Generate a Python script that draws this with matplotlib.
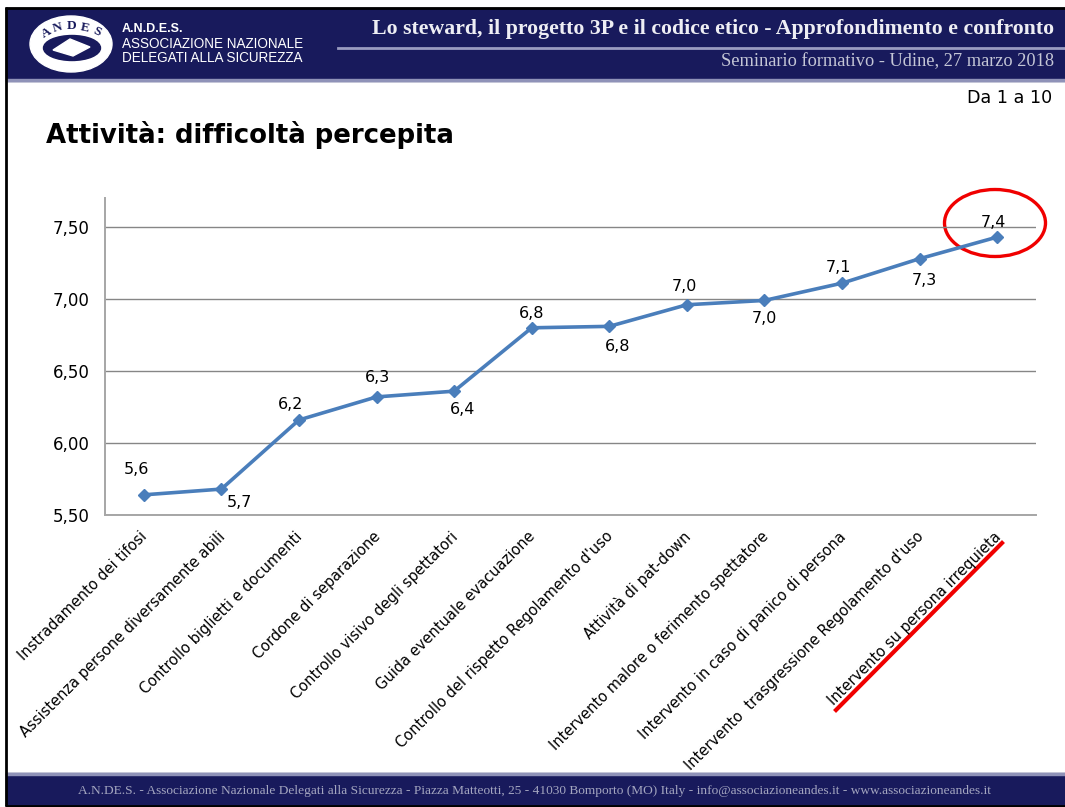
import matplotlib
matplotlib.use("Agg")
import matplotlib.pyplot as plt
from matplotlib.patches import Ellipse, Polygon, Rectangle
from matplotlib.transforms import ScaledTranslation

categories = ["Instradamento dei tifosi", "Assistenza persone diversamente abili",
              "Controllo biglietti e documenti", "Cordone di separazione",
              "Controllo visivo degli spettatori", "Guida eventuale evacuazione",
              "Controllo del rispetto Regolamento d'uso", "Attività di pat-down",
              "Intervento malore o ferimento spettatore",
              "Intervento in caso di panico di persona",
              "Intervento  trasgressione Regolamento d'uso",
              "Intervento su persona irrequieta"]
values = [5.64, 5.68, 6.16, 6.32, 6.36, 6.80, 6.81, 6.96, 6.99, 7.11, 7.28, 7.43]
value_labels = ["5,6", "5,7", "6,2", "6,3", "6,4", "6,8", "6,8", "7,0", "7,0", "7,1", "7,3", "7,4"]
label_offsets = [(-7, 25), (18, -13), (-8, 15), (1, 19), (8, -18), (0, 14),
                 (8, -20), (-2, 18), (0, -18), (-4, 16), (5, -22), (-4, 15)]
y_ticks = [5.5, 6.0, 6.5, 7.0, 7.5]
y_tick_labels = ["5,50", "6,00", "6,50", "7,00", "7,50"]
logo_letters = ["A", "N", "D", "E", "S"]

W, H = 1065, 807
navy = "#181a5c"
pale = "#c4c6d6"

fig = plt.figure(figsize=(W / 100, H / 100), dpi=100)

# slide background, header and footer in pixel coordinates
bg = fig.add_axes([0, 0, 1, 1])
bg.set_xlim(0, W)
bg.set_ylim(H, 0)
bg.axis("off")
bg.add_patch(Rectangle((6, 8), W - 6, 73, color=navy))
bg.add_patch(Rectangle((6, 79), W - 6, 2, color="#8f92b8"))
bg.add_patch(Rectangle((6, 773), W - 6, 32, color=navy))
bg.add_patch(Rectangle((6, 773), W - 6, 2, color="#8f92b8"))
bg.plot([5.5, 5.5], [7, 806], color="black", lw=2, solid_capstyle="butt")
bg.plot([5, W], [7.5, 7.5], color="black", lw=2, solid_capstyle="butt")
bg.plot([5, W], [805.5, 805.5], color="black", lw=2, solid_capstyle="butt")
bg.plot([338, W], [48, 48], color="#9a9cc0", lw=2)

# logo
bg.add_patch(Ellipse((71, 44), 82, 56, color="white"))
bg.add_patch(Ellipse((72, 48), 57, 25, color=navy))
bg.add_patch(Polygon([[53, 50], [70, 39], [90, 47], [73, 56]], color="white"))
letter_x = [47, 58, 72, 85, 97]
letter_y = [33, 28, 26, 28, 32]
letter_rot = [30, 15, 0, -12, -25]
for c, lx, ly, lr in zip(logo_letters, letter_x, letter_y, letter_rot):
    bg.text(lx, ly, c, color=navy, fontsize=9.5, fontweight="bold", rotation=lr,
            family="Liberation Serif", ha="center", va="center")
bg.text(122, 29, "A.N.D.E.S.", color="white", fontsize=9, fontweight="bold",
        family="Liberation Sans", ha="left", va="center")
bg.text(122, 44, "ASSOCIAZIONE NAZIONALE", color="white", fontsize=9.75,
        family="Liberation Sans", ha="left", va="center")
bg.text(122, 58, "DELEGATI ALLA SICUREZZA", color="white", fontsize=9.75,
        family="Liberation Sans", ha="left", va="center")

bg.text(1054, 29, "Lo steward, il progetto 3P e il codice etico - Approfondimento e confronto",
        color="#eeeef4", fontsize=15.7, fontweight="bold", family="Liberation Serif",
        ha="right", va="center")
bg.text(1054, 62, "Seminario formativo - Udine, 27 marzo 2018", color=pale, fontsize=13.2,
        family="Liberation Serif", ha="right", va="center")
bg.text(535, 791, "A.N.DE.S. - Associazione Nazionale Delegati alla Sicurezza - Piazza Matteotti, 25 "
        "- 41030 Bomporto (MO) Italy - info@associazioneandes.it - www.associazioneandes.it",
        color="#a4a6c0", fontsize=9.6, family="Liberation Serif", ha="center", va="center")

bg.text(1052, 98, "Da 1 a 10", color="black", fontsize=12.6, ha="right", va="center")
bg.text(46, 135, "Attività: difficoltà percepita", color="black", fontsize=18.7,
        fontweight="bold", ha="left", va="center")

# chart
top_px = 198
ax = fig.add_axes([105 / W, 1 - 515 / H, 931 / W, (515 - top_px) / H])
ax.patch.set_alpha(0)
ax.set_xlim(-0.5, len(values) - 0.5)
ax.set_ylim(5.5, 5.5 + (515 - top_px) / 144)
ax.plot(range(len(values)), values, color="#4a7ebb", lw=2.6, marker="D", ms=6, zorder=3)
for i, (v, lab) in enumerate(zip(values, value_labels)):
    ax.annotate(lab, (i, v), xytext=label_offsets[i], textcoords="offset pixels",
                ha="center", va="center", fontsize=11.5, color="black")

ax.set_yticks(y_ticks)
ax.set_yticklabels(y_tick_labels, fontsize=12)
ax.grid(axis="y", color="#868686", lw=1)
ax.set_axisbelow(True)
ax.tick_params(axis="y", length=0, pad=11)
ax.tick_params(axis="x", length=0, pad=10)
ax.set_xticks(range(len(categories)))
ax.set_xticklabels(categories, rotation=45, ha="right", rotation_mode="anchor", fontsize=10.55)
shift = ScaledTranslation(-4 / 100, 0, fig.dpi_scale_trans)
for lab in ax.get_xticklabels():
    lab.set_transform(lab.get_transform() + shift)
for side in ["top", "right"]:
    ax.spines[side].set_visible(False)
for side in ["left", "bottom"]:
    ax.spines[side].set_color("#a6a6a6")
    ax.spines[side].set_linewidth(1.4)

# red highlights
bg.add_patch(Ellipse((995, 223), 101, 67, fill=False, edgecolor="#f00000", lw=2.4, zorder=5))
bg.plot([836, 1002], [710, 543], color="#f00000", lw=3, zorder=5)

fig.savefig("out.png", dpi=100)
